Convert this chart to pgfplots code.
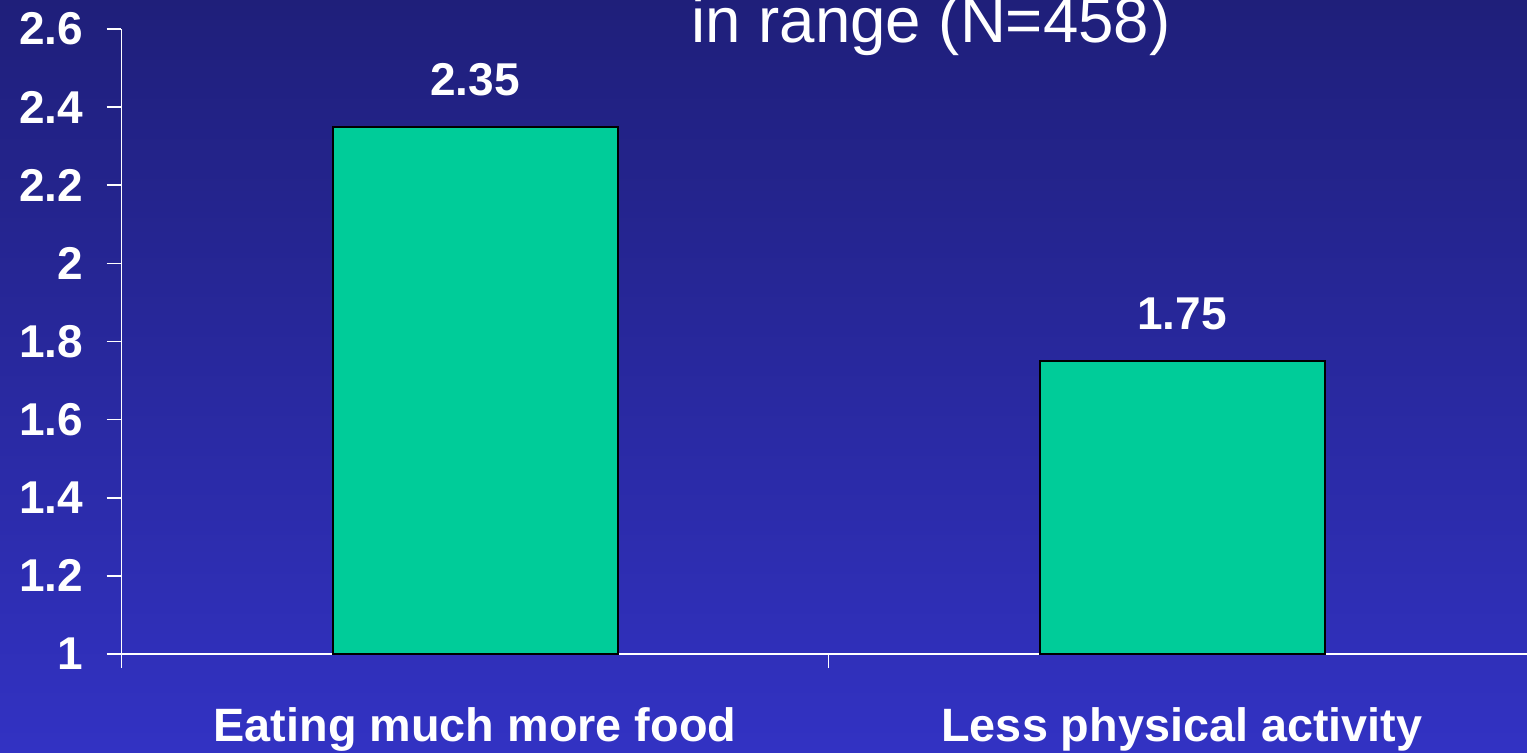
\documentclass[border=0pt]{standalone}
\usepackage{fontspec}
\setmainfont{Liberation Sans}
\usepackage{pgfplots}
\pgfplotsset{compat=1.18}
\definecolor{bgtop}{RGB}{31,31,122}
\definecolor{bgbot}{RGB}{50,50,195}
\definecolor{barfill}{RGB}{0,204,153}
\begin{document}
\begin{tikzpicture}[x=1pt,y=1pt]
\shade[top color=bgtop,bottom color=bgbot] (0,0) rectangle (763.5,376);
\begin{axis}[
  at={(60.75pt,49pt)}, anchor=south west,
  scale only axis, width=707pt, height=312.5pt,
  xmin=0, xmax=2, ymin=1, ymax=2.6,
  axis x line*=bottom, axis y line*=left,
  axis line style={white, line width=0.8pt},
  tick style={white, line width=0.8pt},
  tick align=outside,
  major tick length=7.5pt, minor tick length=7pt,
  ytick={1,1.2,1.4,1.6,1.8,2,2.2,2.4,2.6},
  xtick={0.5,1.5},
  xticklabels={Eating much more food, Less physical activity},
  minor xtick={0,1,2},
  major x tick style={draw=none},
  /pgf/number format/assume math mode=true,
  ticklabel style={text=white, font=\bfseries\fontsize{23}{23}\selectfont},
  yticklabel style={inner sep=0pt, xshift=-11.4pt},
  xticklabel style={inner sep=0pt, yshift=-19pt, font=\bfseries\fontsize{23.4}{23.4}\selectfont},
  ybar, bar width=142.5pt,
  nodes near coords,
  nodes near coords style={text=white, font=\bfseries\fontsize{23}{23}\selectfont, inner sep=0pt, anchor=south, yshift=15pt},
]
\addplot[fill=barfill, draw=black, line width=1pt] coordinates {(0.5,2.35) (1.5,1.75)};
\end{axis}
\node[anchor=base, text=white, inner sep=0pt, font=\fontsize{31.8}{31.8}\selectfont] at (465.5,355) {in range (N=458)};
\pgfresetboundingbox
\useasboundingbox (0,0) rectangle (763.5,376);
\end{tikzpicture}
\end{document}
